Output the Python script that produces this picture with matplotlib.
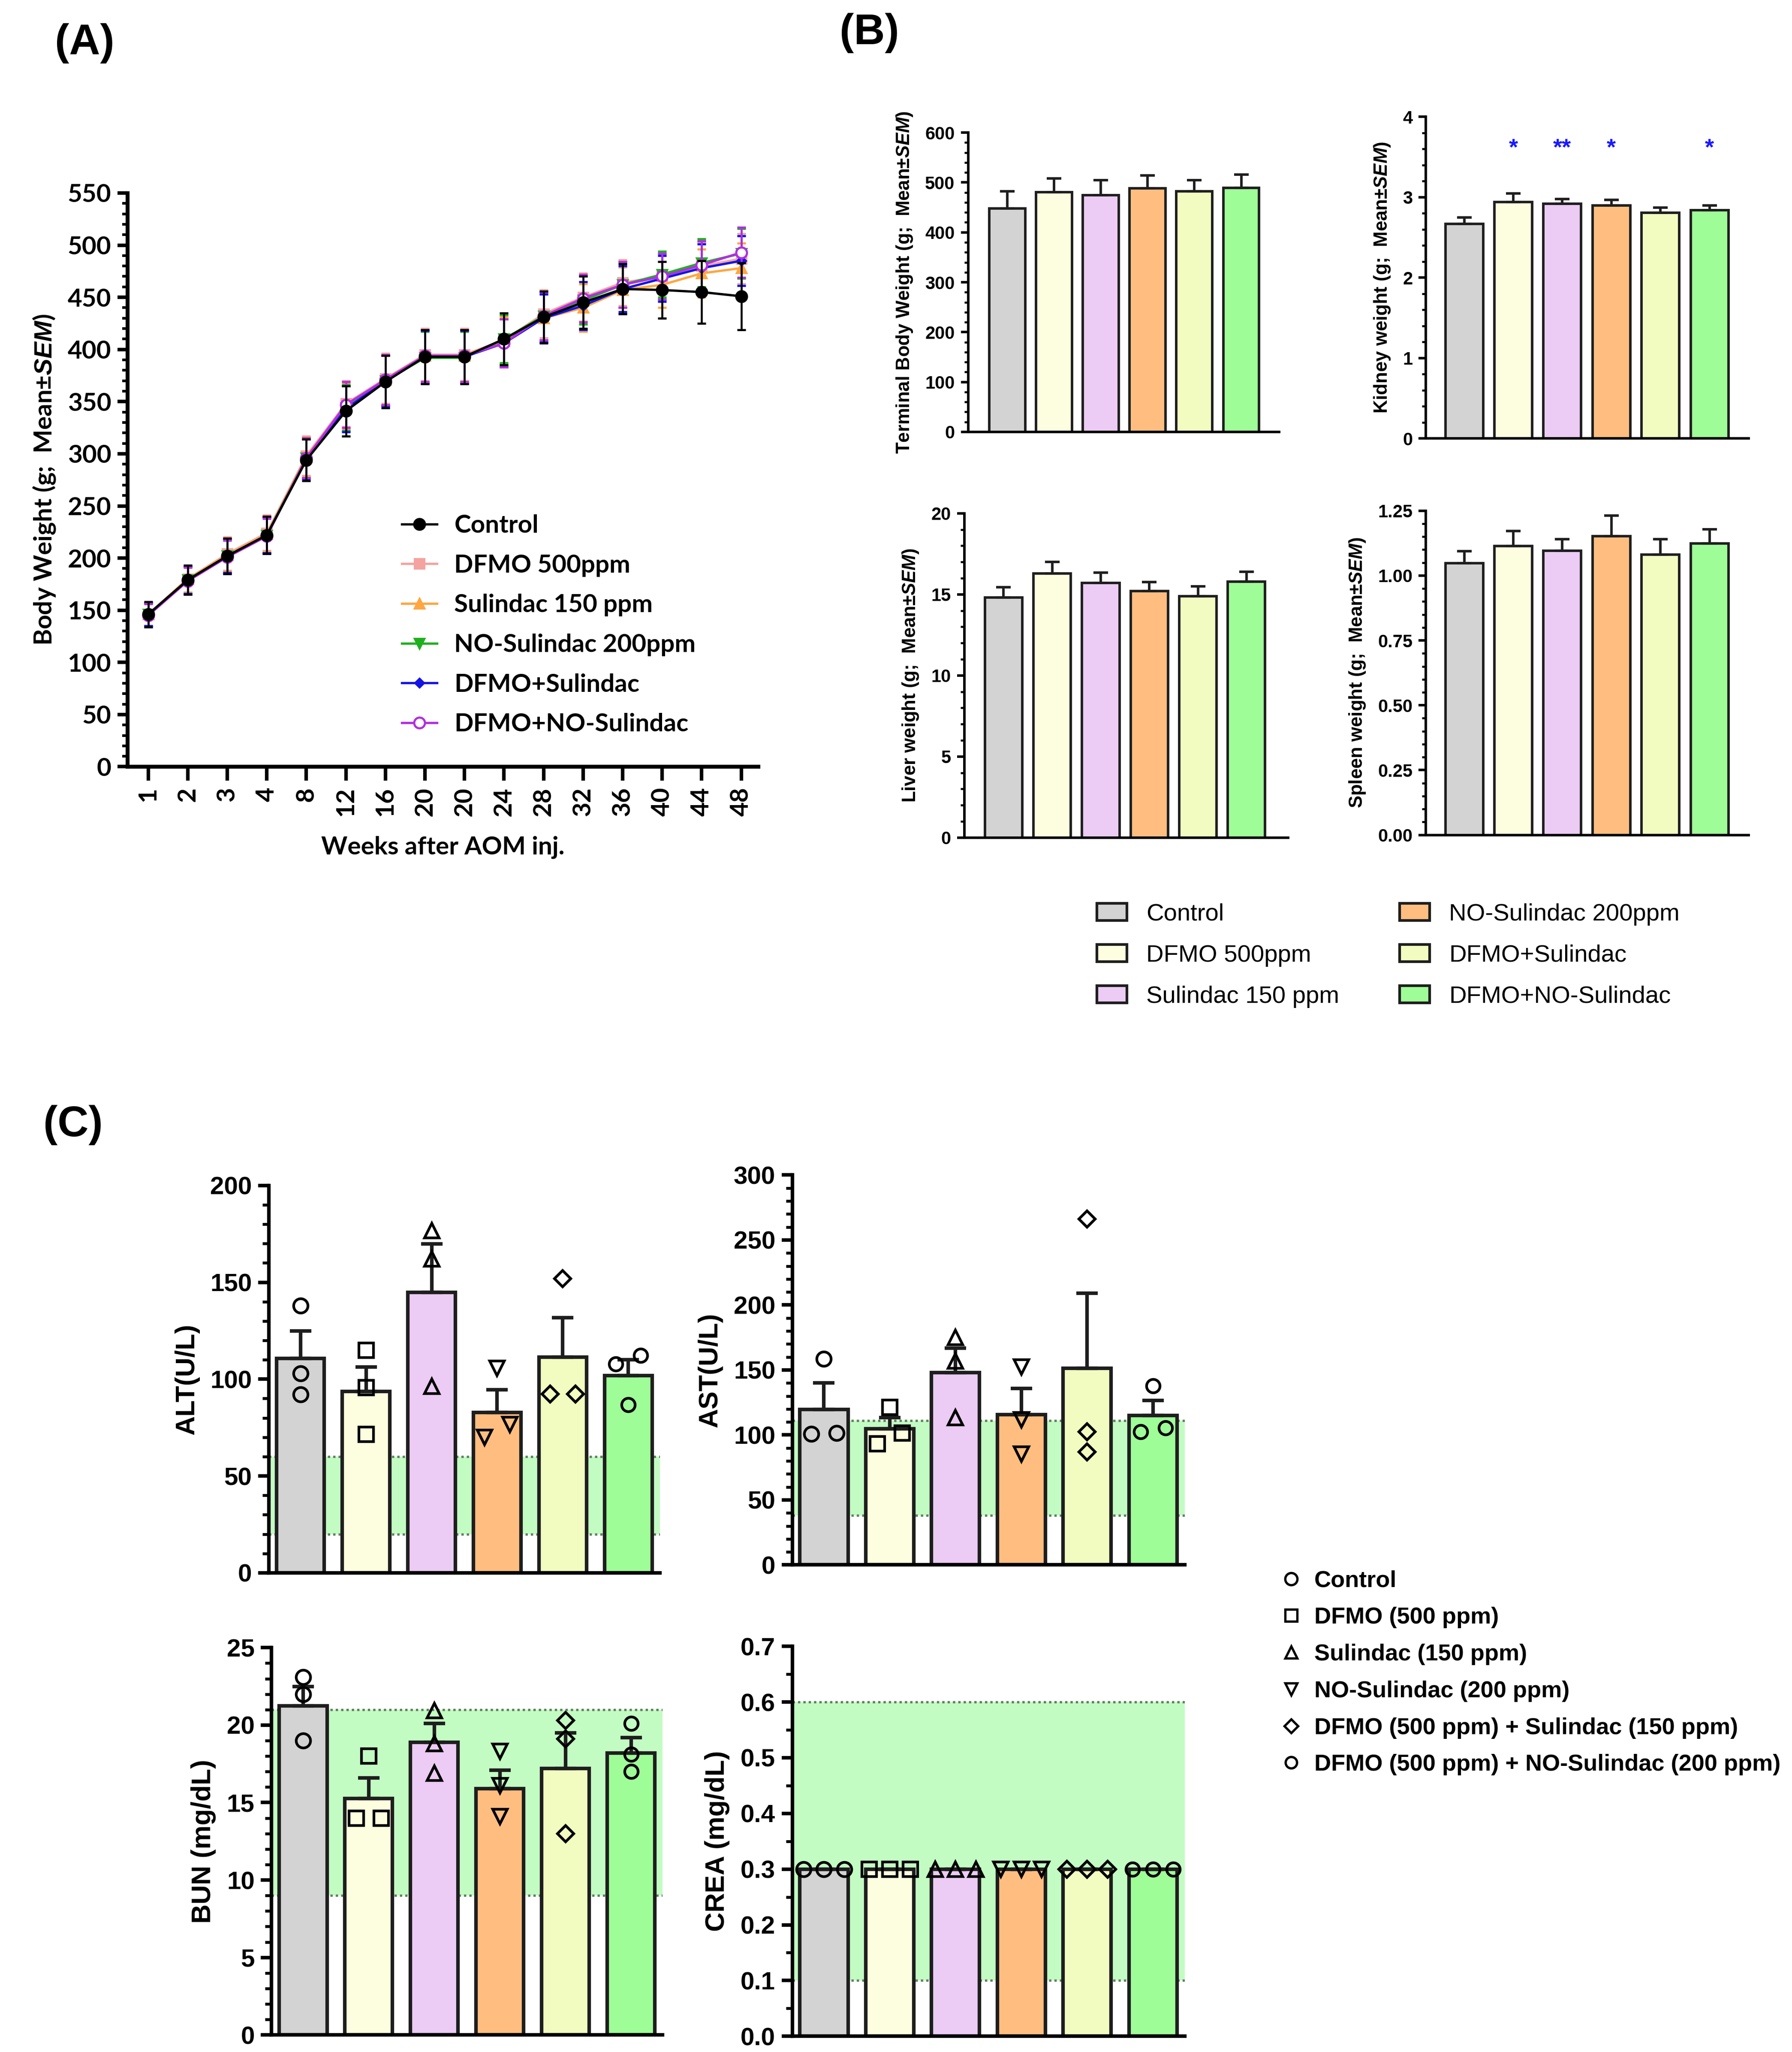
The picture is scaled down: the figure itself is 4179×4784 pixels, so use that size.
import numpy as np
import matplotlib.pyplot as plt
from matplotlib.ticker import MultipleLocator
from matplotlib.patches import Patch
from matplotlib.lines import Line2D

plt.rcParams['mathtext.fontset'] = 'custom'
plt.rcParams['mathtext.it'] = 'Liberation Sans:italic:bold'
plt.rcParams['mathtext.rm'] = 'Liberation Sans:bold'

# ---------- (A) body weight over time ----------
weeks = ['1', '2', '3', '4', '8', '12', '16', '20', '20', '24', '28', '32', '36', '40', '44', '48']
bw_control = [146, 179, 202, 222, 294, 341, 369, 393, 393, 410, 431, 445, 458, 457, 455, 451]
bw_dfmo = [146, 180, 204, 224, 298, 348, 372, 395, 395, 409, 434, 450, 464, 470, 480, 487]
bw_sul = [146, 180, 203, 223, 297, 346, 371, 394, 394, 408, 430, 440, 457, 462, 473, 478]
bw_nosul = [146, 179, 202, 222, 296, 344, 370, 392, 392, 410, 432, 447, 462, 472, 483, 492]
bw_dfmo_sul = [146, 179, 202, 222, 295, 343, 370, 393, 393, 406, 430, 442, 458, 468, 478, 485]
bw_dfmo_nosul = [145, 178, 201, 221, 296, 347, 371, 394, 394, 406, 432, 449, 462, 470, 481, 493]
sem_control = [12, 14, 17, 18, 20, 24, 25, 26, 26, 25, 25, 25, 24, 27, 30, 32]
sem_treated = [11, 13, 16, 17, 19, 22, 24, 25, 25, 23, 23, 23, 22, 22, 23, 24]
line_labels = ['Control', 'DFMO 500ppm', 'Sulindac 150 ppm', 'NO-Sulindac 200ppm',
               'DFMO+Sulindac', 'DFMO+NO-Sulindac']

# ---------- (B) organ weights ----------
groups_b = ['Control', 'DFMO 500ppm', 'Sulindac 150 ppm', 'NO-Sulindac 200ppm',
            'DFMO+Sulindac', 'DFMO+NO-Sulindac']
tbw_mean = [448, 481, 475, 488, 482, 489]
tbw_sem = [34, 27, 30, 26, 23, 27]
kidney_mean = [2.67, 2.94, 2.92, 2.90, 2.81, 2.84]
kidney_sem = [0.08, 0.11, 0.06, 0.07, 0.06, 0.06]
kidney_sig = ['', '*', '**', '*', '', '*']
liver_mean = [14.8, 16.3, 15.7, 15.2, 14.9, 15.8]
liver_sem = [0.65, 0.7, 0.65, 0.55, 0.6, 0.6]
spleen_mean = [1.047, 1.114, 1.096, 1.152, 1.081, 1.123]
spleen_sem = [0.047, 0.057, 0.045, 0.079, 0.06, 0.056]

# ---------- (C) serum chemistry ----------
groups_c = ['Control', 'DFMO (500 ppm)', 'Sulindac (150 ppm)', 'NO-Sulindac (200 ppm)',
            'DFMO (500 ppm) + Sulindac (150 ppm)', 'DFMO (500 ppm) + NO-Sulindac (200 ppm)']
alt_mean = [110.7, 93.6, 144.9, 82.9, 111.3, 101.8]
alt_sem = [14.1, 12.6, 24.9, 11.6, 20.4, 8.3]
alt_pts = [[138, 103, 92], [115, 95.7, 71.5], [176.7, 162, 96.3],
           [105.6, 76.6, 70], [151.9, 92.3, 92.3], [112.3, 107.9, 86.8]]
ast_mean = [119.7, 104.7, 147.9, 115.8, 151.2, 115.1]
ast_sem = [20.5, 8.8, 18.9, 19.9, 57.7, 11.3]
ast_pts = [[158.4, 100.7, 101.3], [121.3, 93.1, 101.3], [175, 156.8, 113.5],
           [152.4, 111.8, 85.4], [266.2, 102.4, 86.9], [137.9, 102.4, 105.3]]
bun_mean = [21.25, 15.25, 18.9, 15.9, 17.2, 18.2]
bun_sem = [1.25, 1.35, 1.2, 1.2, 2.3, 1.0]
bun_pts = [[23.1, 22.0, 19.0], [18.0, 14.0, 14.0], [20.95, 18.8, 16.9],
           [18.3, 16.1, 14.1], [20.3, 19.1, 13.0], [20.1, 18.1, 17.0]]
crea_mean = [0.3, 0.3, 0.3, 0.3, 0.3, 0.3]
crea_sem = [0, 0, 0, 0, 0, 0]
crea_pts = [[0.3, 0.3, 0.3], [0.3, 0.3, 0.3], [0.3, 0.3, 0.3],
            [0.3, 0.3, 0.3], [0.3, 0.3, 0.3], [0.3, 0.3, 0.3]]
alt_range = [20, 60]
ast_range = [38, 111]
bun_range = [9, 21]
crea_range = [0.1, 0.6]

bar_colors = ['#d3d3d3', '#fdfde0', '#eccbf4', '#ffbe80', '#f2fcc0', '#9ffd98']
pt_markers = ['o', 's', '^', 'v', 'D', 'o']
pt_sizes = [8, 8, 8, 8, 6.5, 7.5]

W, H, DPI = 4179, 4784, 300
fig = plt.figure(figsize=(W / DPI, H / DPI), dpi=DPI)


def box(l, t, r, b):
    # layout given in 1366 x 1563 reference units
    return [l / 1366, 1 - b / 1563, (r - l) / 1366, (b - t) / 1563]


BF = 'Liberation Sans'

# ================= (A) =================
axA = fig.add_axes(box(97, 147, 578, 584))
x = np.arange(len(weeks))
styleA = [  # values, sem, color, marker, size, face, zorder
    (bw_control, sem_control, 'black', 'o', 6, 'black', 10),
    (bw_dfmo, sem_treated, '#f5a3a0', 's', 5.5, '#f5a3a0', 4),
    (bw_sul, sem_treated, '#ffa640', '^', 5.5, '#ffa640', 5),
    (bw_nosul, sem_treated, '#1fb01f', 'v', 5.5, '#1fb01f', 6),
    (bw_dfmo_sul, sem_treated, '#1414e6', 'D', 3.5, '#1414e6', 7),
    (bw_dfmo_nosul, sem_treated, '#b030e0', 'o', 6, 'white', 8),
]
handlesA = []
for (vals, sem, c, m, ms, fc, z), lab in zip(styleA, line_labels):
    axA.errorbar(x, vals, yerr=sem, color=c, marker=m, ms=ms, mfc=fc, mec=c, mew=1.2,
                 lw=1.3, elinewidth=1.1, capsize=2.5, capthick=1.1, zorder=z)
    handlesA.append(Line2D([], [], color=c, marker=m, ms=ms, mfc=fc, mec=c, mew=1.2, lw=1.3))

axA.set_xlim(-0.53, 15.43)
axA.set_ylim(0, 550)
axA.set_xticks(x, weeks, rotation=90, fontsize=14, fontweight='bold', family='Lato')
yt = np.arange(0, 551, 50)
axA.set_yticks(yt, [str(v) for v in yt], fontsize=14, fontweight='bold', family='Lato')
axA.yaxis.set_minor_locator(MultipleLocator(10))
axA.spines[['top', 'right']].set_visible(False)
axA.spines[['left', 'bottom']].set_linewidth(2.2)
axA.tick_params(axis='x', length=8, width=2)
axA.tick_params(axis='y', which='major', length=5.5, width=2)
axA.tick_params(axis='y', which='minor', length=3, width=1.5)
axA.set_xlabel('Weeks after AOM inj.', fontsize=14, fontweight='bold', family='Lato', labelpad=11)
axA.set_ylabel('Body Weight (g;  Mean±$\\mathit{SEM}$)', fontsize=14, fontweight='bold',
               family='Lato', labelpad=6)
axA.legend(handlesA, line_labels, loc='upper left', bbox_to_anchor=(0.435, 0.44),
           frameon=False, prop={'family': 'Lato', 'weight': 'bold', 'size': 14},
           handlelength=1.4, handletextpad=0.7, labelspacing=0.68, borderaxespad=0, borderpad=0)


# ================= bar helpers =================
def draw_bars(ax, means, sems, ylim, major, minor, fmt, xlim, width, lw, fs, cap):
    pos = np.arange(len(means))
    ax.bar(pos, means, width=width, color=bar_colors, edgecolor='#1e1e1e', linewidth=lw, zorder=2)
    ax.errorbar(pos, means, yerr=[np.zeros(len(sems)), sems], fmt='none', ecolor='#1e1e1e',
                elinewidth=lw, capsize=cap, capthick=lw, zorder=3)
    ax.set_xlim(*xlim)
    ax.set_ylim(*ylim)
    ticks = np.arange(ylim[0], ylim[1] + major / 2, major)
    ax.set_yticks(ticks, [fmt.format(t) for t in ticks], fontsize=fs, fontweight='bold', family=BF)
    ax.yaxis.set_minor_locator(MultipleLocator(minor))
    ax.set_xticks([])
    ax.spines[['top', 'right']].set_visible(False)
    ax.spines[['left', 'bottom']].set_linewidth(lw)
    ax.tick_params(axis='y', which='major', length=4, width=lw)
    ax.tick_params(axis='y', which='minor', length=2.2, width=lw * 0.8)
    return pos


# ================= (B) =================
axB1 = fig.add_axes(box(738, 101, 975, 329))
draw_bars(axB1, tbw_mean, tbw_sem, (0, 600), 100, 20, '{:.0f}', (-0.84, 5.81), 0.77, 1.4, 10, 4)
axB1.set_ylabel('Terminal Body Weight (g;  Mean±$\\mathit{SEM}$)', fontsize=10.5, fontweight='bold',
                family=BF, labelpad=6)

axB2 = fig.add_axes(box(1087, 89, 1333, 334))
posk = draw_bars(axB2, kidney_mean, kidney_sem, (0, 4), 1, 0.2, '{:.0f}', (-0.78, 5.8), 0.77, 1.4, 10, 4)
for p, s in zip(posk, kidney_sig):
    if s:
        axB2.text(p, 3.6, s, color='#1a1aff', ha='center', va='center', fontsize=13,
                  fontweight='bold', family=BF)
axB2.set_ylabel('Kidney weight (g;  Mean±$\\mathit{SEM}$)', fontsize=10.5, fontweight='bold',
                family=BF, labelpad=6)

axB3 = fig.add_axes(box(735, 391, 982, 638))
draw_bars(axB3, liver_mean, liver_sem, (0, 20), 5, 1, '{:.0f}', (-0.81, 5.86), 0.77, 1.4, 10, 4)
axB3.set_ylabel('Liver weight (g;  Mean±$\\mathit{SEM}$)', fontsize=10.5, fontweight='bold',
                family=BF, labelpad=6)

axB4 = fig.add_axes(box(1087, 389, 1333, 636))
draw_bars(axB4, spleen_mean, spleen_sem, (0, 1.25), 0.25, 0.05, '{:.2f}', (-0.78, 5.8), 0.77, 1.4, 10, 4)
axB4.set_ylabel('Spleen weight (g;  Mean±$\\mathit{SEM}$)', fontsize=10.5, fontweight='bold',
                family=BF, labelpad=6)

handlesB = [Patch(facecolor=c, edgecolor='#1e1e1e', linewidth=1.5, label=g)
            for c, g in zip(bar_colors, groups_b)]
fig.legend(handles=handlesB, loc='upper left', bbox_to_anchor=(836 / 1366, 1 - 688 / 1563), ncol=2,
           frameon=False, prop={'family': BF, 'size': 13.5}, handlelength=1.25, handleheight=0.7,
           handletextpad=0.8, columnspacing=2.5, labelspacing=0.78, borderaxespad=0, borderpad=0)


# ================= (C) =================
def spread(vals, span, thresh=0.04):
    # spread overlapping points sideways like a column scatter
    vals = np.asarray(vals, dtype=float)
    order = np.argsort(vals)
    offs = np.zeros(len(vals))
    clusters, cur = [], [order[0]]
    for k in order[1:]:
        if vals[k] - vals[cur[-1]] < thresh * span:
            cur.append(k)
        else:
            clusters.append(cur)
            cur = [k]
    clusters.append(cur)
    for cl in clusters:
        n = len(cl)
        step = 0.38 if n == 2 else 0.31
        for i, k in enumerate(cl):
            offs[k] = (i - (n - 1) / 2) * step
    return offs


def chem_panel(rect, means, sems, pts, rng, ylim, major, minor, fmt, ylabel):
    ax = fig.add_axes(box(*rect))
    ax.axhspan(rng[0], rng[1], color='#c3fcc3', lw=0, zorder=0)
    for v in rng:
        ax.axhline(v, color='#5f7f5f', lw=1.3, ls=(0, (1, 1.3)), zorder=1)
    pos = draw_bars(ax, means, sems, ylim, major, minor, fmt, (-0.48, 5.48), 0.73, 2.0, 14, 6)
    ax.tick_params(axis='y', which='major', length=6, width=2)
    ax.tick_params(axis='y', which='minor', length=3.5, width=1.6)
    span = ylim[1] - ylim[0]
    for p, vals, m, ms in zip(pos, pts, pt_markers, pt_sizes):
        off = spread(vals, span)
        ax.plot(p + off, vals, ls='none', marker=m, mfc='none', mec='black', mew=1.5,
                ms=ms, zorder=4, clip_on=False)
    ax.set_ylabel(ylabel, fontsize=15, fontweight='bold', family=BF, labelpad=6)
    return ax


chem_panel((205, 903, 503, 1198), alt_mean, alt_sem, alt_pts, alt_range, (0, 200), 50, 10,
           '{:.0f}', 'ALT(U/L)')
chem_panel((604, 895, 903, 1192), ast_mean, ast_sem, ast_pts, ast_range, (0, 300), 50, 10,
           '{:.0f}', 'AST(U/L)')
chem_panel((207, 1255, 505, 1550), bun_mean, bun_sem, bun_pts, bun_range, (0, 25), 5, 1,
           '{:.0f}', 'BUN (mg/dL)')
chem_panel((604, 1254, 903, 1551), crea_mean, crea_sem, crea_pts, crea_range, (0, 0.7), 0.1, 0.05,
           '{:.1f}', 'CREA (mg/dL)')

handlesC = [Line2D([], [], ls='none', marker=m, mfc='none', mec='black', mew=1.3, ms=ms * 0.85)
            for m, ms in zip(pt_markers, pt_sizes)]
fig.legend(handlesC, groups_c, loc='upper left', bbox_to_anchor=(977 / 1366, 1 - 1196 / 1563),
           frameon=False, prop={'family': BF, 'weight': 'bold', 'size': 13},
           handlelength=0.8, handletextpad=0.6, labelspacing=0.66, borderaxespad=0, borderpad=0)

# panel letters
for lab, px, py in [('(A)', 42, 33), ('(B)', 640, 25), ('(C)', 33, 857)]:
    fig.text(px / 1366, 1 - py / 1563, lab, fontsize=24, fontweight='bold', family=BF,
             ha='left', va='center')

fig.savefig('out.png', dpi=DPI)
